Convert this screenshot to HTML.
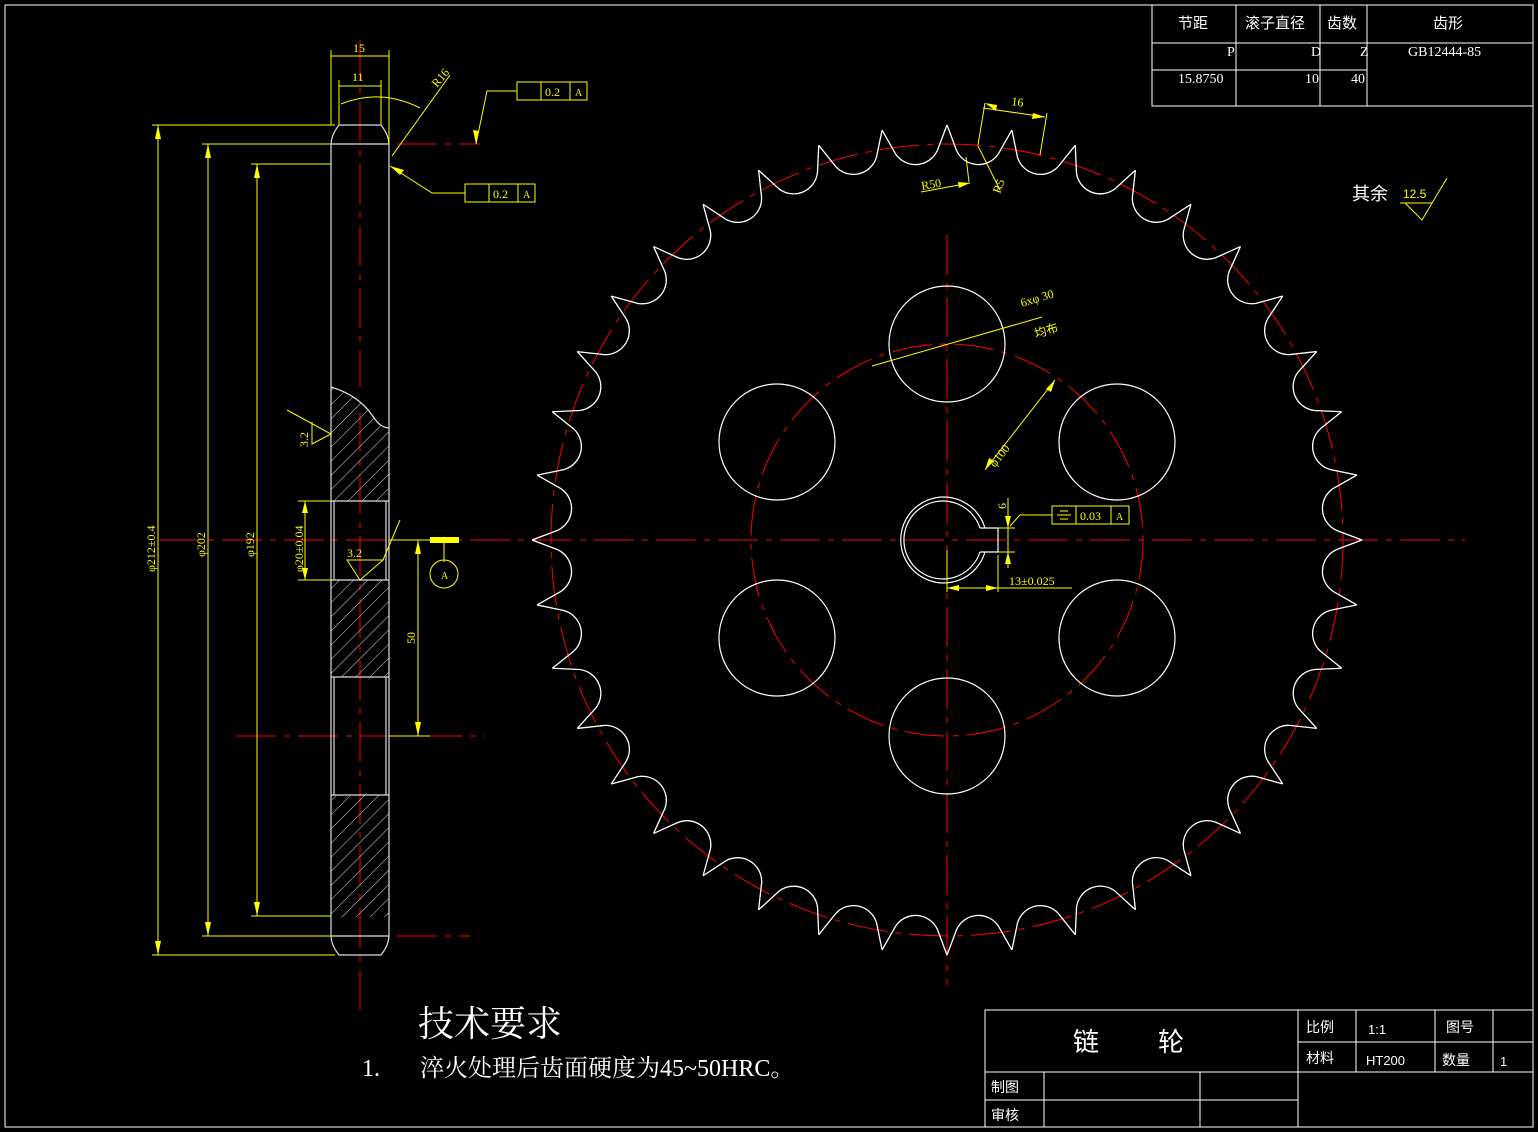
<!DOCTYPE html>
<html><head><meta charset="utf-8"><style>
html,body{margin:0;padding:0;background:#000;width:1538px;height:1132px;overflow:hidden}
svg{display:block}
</style></head><body>
<svg width="1538" height="1132" viewBox="0 0 1538 1132" xmlns="http://www.w3.org/2000/svg" font-family="Liberation Sans, Noto Sans CJK SC, sans-serif">
<defs>
<pattern id="h" width="10" height="10" patternUnits="userSpaceOnUse" patternTransform="rotate(45)"><line x1="0" y1="0" x2="0" y2="10" stroke="#ddd" stroke-width="1"/></pattern>
<path id="t" d="M947 125 L956.6 150.6 A24 24 0 0 0 998.4 153.8 L1011.9 130.1" fill="none" stroke="#fff" stroke-width="1.3"/>
</defs>
<rect x="0" y="0" width="1538" height="1132" fill="#000"/>
<rect x="5" y="5" width="1528" height="1122" fill="none" stroke="#fff" stroke-width="1"/>

<!-- top table -->
<g stroke="#fff" fill="none" stroke-width="1">
<rect x="1152" y="5" width="381" height="101"/>
<line x1="1152" y1="43" x2="1533" y2="43"/><line x1="1152" y1="70" x2="1367" y2="70"/>
<line x1="1236" y1="5" x2="1236" y2="106"/><line x1="1320" y1="5" x2="1320" y2="106"/><line x1="1367" y1="5" x2="1367" y2="106"/>
</g>
<g fill="#fff" font-size="15">
<text x="1178" y="28">节距</text><text x="1245" y="28">滚子直径</text><text x="1327" y="28">齿数</text><text x="1433" y="28">齿形</text>
<g font-family="Liberation Serif, serif" font-size="14">
<text x="1227" y="56">P</text><text x="1311" y="56">D</text><text x="1360" y="56">Z</text><text x="1408" y="56">GB12444-85</text>
<text x="1178" y="83">15.8750</text><text x="1305" y="83">10</text><text x="1351" y="83">40</text>
</g>
</g>

<!-- title block -->
<g stroke="#fff" fill="none" stroke-width="1">
<rect x="985" y="1010" width="548" height="117"/>
<line x1="985" y1="1072" x2="1298" y2="1072"/><line x1="985" y1="1100" x2="1298" y2="1100"/>
<line x1="1298" y1="1010" x2="1298" y2="1127"/><line x1="1298" y1="1042" x2="1533" y2="1042"/><line x1="1298" y1="1072" x2="1533" y2="1072"/>
<line x1="1356" y1="1010" x2="1356" y2="1072"/><line x1="1435" y1="1010" x2="1435" y2="1072"/><line x1="1493" y1="1010" x2="1493" y2="1072"/>
<line x1="1044" y1="1072" x2="1044" y2="1127"/><line x1="1200" y1="1072" x2="1200" y2="1127"/>
</g>
<g fill="#fff" font-size="14">
<text x="1073" y="1051" font-size="26">链</text><text x="1158" y="1051" font-size="26">轮</text>
<text x="1306" y="1032">比例</text><text x="1368" y="1034" font-size="13">1:1</text><text x="1446" y="1032">图号</text>
<text x="1306" y="1063">材料</text><text x="1366" y="1065" font-size="13">HT200</text><text x="1442" y="1065">数量</text><text x="1500" y="1066" font-size="13">1</text>
<text x="991" y="1092">制图</text><text x="991" y="1120">审核</text>
</g>
<text x="418" y="1036" fill="#fff" font-size="36" font-family="Liberation Serif, Noto Serif CJK SC, serif">技术要求</text>
<text x="362" y="1076" fill="#fff" font-size="24" font-family="Liberation Serif, Noto Serif CJK SC, serif">1.</text>
<text x="420" y="1076" fill="#fff" font-size="24" font-family="Liberation Serif, Noto Serif CJK SC, serif">淬火处理后齿面硬度为45~50HRC。</text>
<text x="1352" y="200" fill="#fff" font-size="18">其余</text>
<g stroke="#ff0" fill="none"><path d="M1405 203 L1422 220 L1447 178"/><line x1="1400" y1="203" x2="1432" y2="203"/></g>
<text x="1403" y="198" fill="#ff0" font-size="12">12.5</text>

<!-- side view -->
<g stroke="#f00" stroke-dasharray="40,8,6,8" fill="none">
<line x1="360" y1="40" x2="360" y2="1015"/>
<line x1="160" y1="540" x2="500" y2="540"/>
<line x1="236" y1="736" x2="485" y2="736"/>
<line x1="335" y1="144" x2="480" y2="144"/>
<line x1="335" y1="936" x2="470" y2="936"/>
</g>
<rect x="331" y="387" width="58" height="114" fill="url(#h)"/>
<rect x="331" y="580" width="58" height="97" fill="url(#h)"/>
<rect x="331" y="795" width="58" height="122" fill="url(#h)"/>
<path d="M331 387 Q358 395 372 415 Q380 428 389 428 L389 387 Z" fill="#000"/>
<g stroke="#ddd" fill="none" stroke-width="1.2">
<path d="M339 125 L381 125 Q389 135 389 145 L389 935 Q389 945 381 955 L339 955 Q331 945 331 935 L331 145 Q331 135 339 125 Z"/>
<line x1="331" y1="144" x2="389" y2="144"/><line x1="331" y1="936" x2="389" y2="936"/>
<path d="M331 387 Q358 395 372 415 Q380 428 389 428"/>
<line x1="331" y1="501" x2="389" y2="501"/><line x1="331" y1="580" x2="389" y2="580"/>
<line x1="334" y1="501" x2="334" y2="580"/><line x1="386" y1="501" x2="386" y2="580"/>
<line x1="331" y1="677" x2="389" y2="677"/><line x1="331" y1="795" x2="389" y2="795"/>
<line x1="334" y1="677" x2="334" y2="795"/><line x1="386" y1="677" x2="386" y2="795"/>
</g>

<!-- side dims -->
<g stroke="#ff0" fill="none" stroke-width="1">
<line x1="152" y1="125" x2="335" y2="125"/><line x1="152" y1="955" x2="335" y2="955"/><line x1="158" y1="125" x2="158" y2="955"/>
<line x1="202" y1="144" x2="331" y2="144"/><line x1="202" y1="936" x2="331" y2="936"/><line x1="208" y1="144" x2="208" y2="936"/>
<line x1="251" y1="164" x2="331" y2="164"/><line x1="251" y1="916" x2="331" y2="916"/><line x1="257" y1="164" x2="257" y2="916"/>
<line x1="298" y1="501" x2="331" y2="501"/><line x1="298" y1="580" x2="331" y2="580"/><line x1="305" y1="501" x2="305" y2="580"/>
<line x1="331" y1="50" x2="331" y2="125"/><line x1="389" y1="50" x2="389" y2="144"/><line x1="331" y1="56" x2="389" y2="56"/>
<line x1="339" y1="80" x2="339" y2="125"/><line x1="381" y1="80" x2="381" y2="125"/><line x1="339" y1="86" x2="381" y2="86"/>
<path d="M341 104 Q380 88 420 108"/><line x1="392" y1="156" x2="450" y2="75"/>
<line x1="389" y1="540" x2="430" y2="540"/><line x1="389" y1="736" x2="430" y2="736"/><line x1="418" y1="540" x2="418" y2="736"/>
<line x1="444" y1="540" x2="444" y2="562"/><circle cx="444" cy="574" r="14"/>
<path d="M390 166 L432 193 L465 193"/><rect x="465" y="184" width="70" height="18"/><line x1="489" y1="184" x2="489" y2="202"/><line x1="518" y1="184" x2="518" y2="202"/>
<path d="M476 144 L487 91 L517 91"/><rect x="517" y="82" width="70" height="18"/><line x1="541" y1="82" x2="541" y2="100"/><line x1="570" y1="82" x2="570" y2="100"/>
<path d="M287 410 L331 434 L312 444 L312 422"/>
<path d="M347 560 L383 560 L360 580 Z M383 560 L400 520"/>
</g>
<rect x="430" y="537" width="29" height="6" fill="#ff0"/>
<g fill="#ff0">
<path d="M158 125 l-3 14 h6 z M158 955 l-3 -14 h6 z M208 144 l-3 14 h6 z M208 936 l-3 -14 h6 z M257 164 l-3 14 h6 z M257 916 l-3 -14 h6 z M305 501 l-3 12 h6 z M305 580 l-3 -12 h6 z M418 540 l-3 14 h6 z M418 736 l-3 -14 h6 z M476 144 l-3 -14 l6 1 z M390 166 l14 4 l-4 5 z"/>
</g>
<g fill="#ff0" font-size="12" font-family="Liberation Serif, serif">
<text x="353" y="52">15</text><text x="352" y="81">11</text>
<text transform="translate(437 88) rotate(-50)">R16</text>
<text x="545" y="96">0.2</text><text x="575" y="96" font-size="10">A</text>
<text x="493" y="198">0.2</text><text x="523" y="198" font-size="10">A</text>
<text transform="translate(155 572) rotate(-90)">φ212±0.4</text>
<text transform="translate(205 557) rotate(-90)">φ202</text>
<text transform="translate(254 557) rotate(-90)">φ192</text>
<text transform="translate(303 572) rotate(-90)">φ20±0.04</text>
<text transform="translate(308 447) rotate(-90)">3.2</text>
<text x="347" y="557">3.2</text>
<text transform="translate(415 644) rotate(-90)">50</text>
<text x="441" y="579" font-size="10">A</text>
</g>

<!-- front view -->
<g stroke="#f00" fill="none" stroke-width="1">
<circle cx="947" cy="540" r="396" stroke-dasharray="40,8,6,8"/>
<circle cx="947" cy="540" r="196" stroke-dasharray="40,8,6,8"/>
<line x1="947" y1="235" x2="947" y2="985" stroke-dasharray="40,8,6,8"/>
<line x1="470" y1="540" x2="1465" y2="540" stroke-dasharray="40,8,6,8"/>
</g>
<g>
<use href="#t" transform="rotate(0 947 540)"/><use href="#t" transform="rotate(9 947 540)"/><use href="#t" transform="rotate(18 947 540)"/><use href="#t" transform="rotate(27 947 540)"/>
<use href="#t" transform="rotate(36 947 540)"/><use href="#t" transform="rotate(45 947 540)"/><use href="#t" transform="rotate(54 947 540)"/><use href="#t" transform="rotate(63 947 540)"/>
<use href="#t" transform="rotate(72 947 540)"/><use href="#t" transform="rotate(81 947 540)"/><use href="#t" transform="rotate(90 947 540)"/><use href="#t" transform="rotate(99 947 540)"/>
<use href="#t" transform="rotate(108 947 540)"/><use href="#t" transform="rotate(117 947 540)"/><use href="#t" transform="rotate(126 947 540)"/><use href="#t" transform="rotate(135 947 540)"/>
<use href="#t" transform="rotate(144 947 540)"/><use href="#t" transform="rotate(153 947 540)"/><use href="#t" transform="rotate(162 947 540)"/><use href="#t" transform="rotate(171 947 540)"/>
<use href="#t" transform="rotate(180 947 540)"/><use href="#t" transform="rotate(189 947 540)"/><use href="#t" transform="rotate(198 947 540)"/><use href="#t" transform="rotate(207 947 540)"/>
<use href="#t" transform="rotate(216 947 540)"/><use href="#t" transform="rotate(225 947 540)"/><use href="#t" transform="rotate(234 947 540)"/><use href="#t" transform="rotate(243 947 540)"/>
<use href="#t" transform="rotate(252 947 540)"/><use href="#t" transform="rotate(261 947 540)"/><use href="#t" transform="rotate(270 947 540)"/><use href="#t" transform="rotate(279 947 540)"/>
<use href="#t" transform="rotate(288 947 540)"/><use href="#t" transform="rotate(297 947 540)"/><use href="#t" transform="rotate(306 947 540)"/><use href="#t" transform="rotate(315 947 540)"/>
<use href="#t" transform="rotate(324 947 540)"/><use href="#t" transform="rotate(333 947 540)"/><use href="#t" transform="rotate(342 947 540)"/><use href="#t" transform="rotate(351 947 540)"/>
</g>
<g stroke="#fff" fill="none" stroke-width="1.2">
<circle cx="947" cy="344" r="58"/><circle cx="947" cy="736" r="58"/>
<circle cx="777" cy="442" r="58"/><circle cx="1117" cy="442" r="58"/>
<circle cx="777" cy="638" r="58"/><circle cx="1117" cy="638" r="58"/>
<path d="M985 528 A43 43 0 1 0 985 552"/><path d="M980 528 A39 39 0 1 0 980 552"/>
<path d="M980 528 L998 528 L998 552 L980 552"/>
</g>
<g stroke="#ff0" fill="none" stroke-width="1">
<line x1="872" y1="366" x2="1042" y2="317"/>
<line x1="985" y1="470" x2="1055" y2="380"/>
<line x1="947" y1="550" x2="947" y2="592"/><line x1="998" y1="555" x2="998" y2="592"/><line x1="947" y1="588" x2="1072" y2="588"/>
<line x1="1008" y1="498" x2="1008" y2="568"/><line x1="998" y1="528" x2="1015" y2="528"/><line x1="998" y1="552" x2="1015" y2="552"/>
<path d="M1010 526 L1020 515 L1052 515"/><rect x="1052" y="506" width="77" height="18"/><line x1="1076" y1="506" x2="1076" y2="524"/><line x1="1111" y1="506" x2="1111" y2="524"/>
<line x1="1060" y1="511" x2="1068" y2="511"/><line x1="1057" y1="515" x2="1071" y2="515"/><line x1="1060" y1="519" x2="1068" y2="519"/>
<line x1="978" y1="145" x2="985" y2="103"/><line x1="1040" y1="155" x2="1047" y2="113"/><line x1="983" y1="108" x2="1045" y2="117"/>
<line x1="921" y1="192" x2="970" y2="183"/><line x1="969" y1="182" x2="966" y2="157"/>
<line x1="978" y1="146" x2="1000" y2="190"/>
</g>
<g fill="#ff0">
<path d="M1055 380 l-4 12 l-5 -3 z M985 470 l4 -12 l5 3 z M947 588 l12 -3 v6 z M998 588 l-12 -3 v6 z M1008 528 l-3 -12 h6 z M1008 552 l-3 12 h6 z M970 183 l-12 -1 l1 6 z M985 103 l12 2 l-1 6 z M1045 117 l-12 -4 l-1 6 z"/>
</g>
<g fill="#ff0" font-size="12" font-family="Liberation Serif, serif">
<text transform="translate(1022 307) rotate(-17)">6xφ 30</text>
<text transform="translate(1036 338) rotate(-17)">均布</text>
<text transform="translate(995 468) rotate(-52)">φ100</text>
<text x="1080" y="520">0.03</text><text x="1116" y="520" font-size="10">A</text>
<text x="1009" y="585">13±0.025</text>
<text transform="translate(1006 509) rotate(-90)">6</text>
<text transform="translate(1011 105) rotate(8)">16</text>
<text transform="translate(922 190) rotate(-10)">R50</text>
<text transform="translate(1000 194) rotate(-70)">R5</text>
</g>
</svg>
</body></html>
